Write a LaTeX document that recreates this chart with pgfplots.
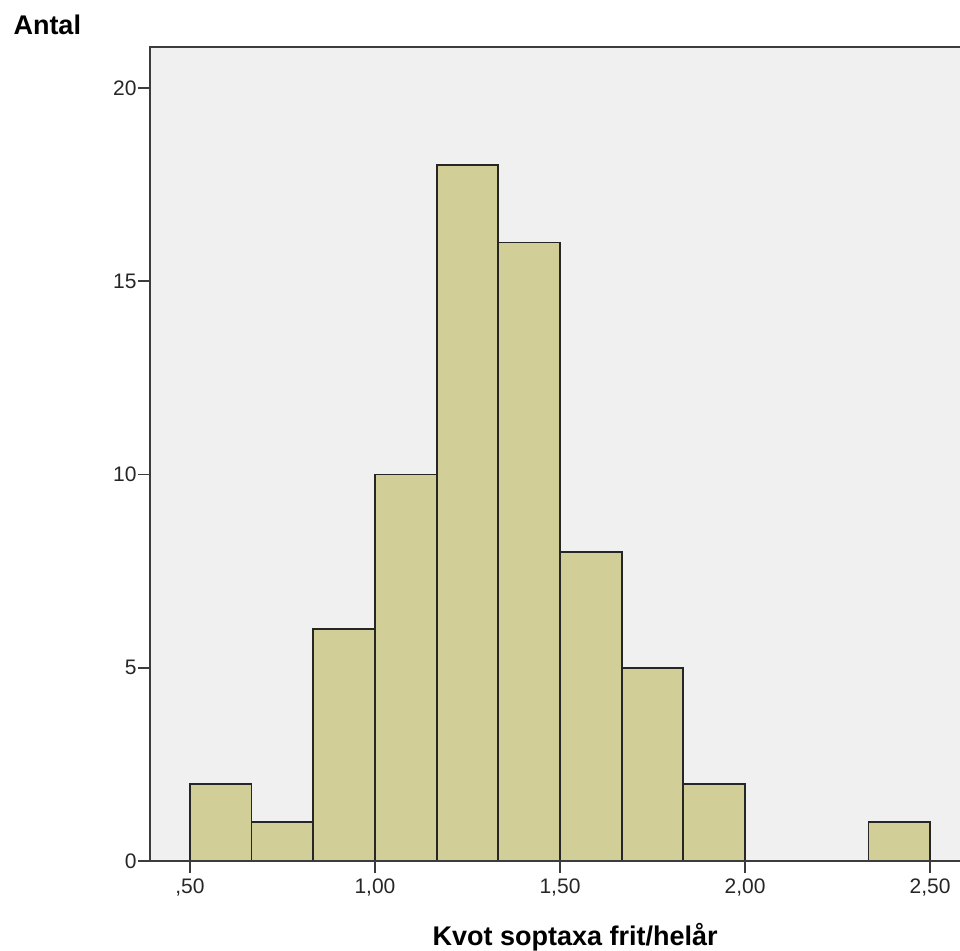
\documentclass[border=0pt]{standalone}
\usepackage{pgfplots}
\pgfplotsset{compat=1.18}
\usepackage{fontspec}
\setmainfont{Liberation Sans}
\definecolor{barfill}{RGB}{210,206,152}
\definecolor{bgc}{RGB}{240,240,240}
\definecolor{axc}{RGB}{60,60,60}
\begin{document}
\begin{tikzpicture}
\useasboundingbox (0,0) rectangle (960bp,951bp);
\begin{axis}[
  at={(150bp,90bp)}, anchor=south west,
  scale only axis, width=810bp, height=814bp,
  xmin=0.392, xmax=2.581, ymin=0, ymax=21.06,
  axis background/.style={fill=bgc},
  axis line style={draw=none},
  clip=false,
  xtick pos=bottom, ytick pos=left,
  tick align=outside, major tick length=12bp,
  tick style={draw=axc, line width=1.6bp},
  xtick={0.5,1,1.5,2,2.5},
  xticklabels={{,50},{1,00},{1,50},{2,00},{2,50}},
  ytick={0,5,10,15,20},
  yticklabels={0,5,10,15,20},
  ticklabel style={font=\fontsize{21bp}{24bp}\selectfont, text=black!85},
  xticklabel style={yshift=-2bp},
  yticklabel style={xshift=2bp},
  x tick label as interval=false,
]
\addplot[ybar interval, fill=barfill, draw=black!85, line width=1.7bp]
 coordinates {(0.5,2) (0.6667,1) (0.8333,6) (1.0,10) (1.1667,18) (1.3333,16)
 (1.5,8) (1.6667,5) (1.8333,2) (2.0,0) (2.1667,0) (2.3333,1) (2.5,1)};
\draw[axc, line width=2bp] (rel axis cs:1.05,1) -- (rel axis cs:0,1) -- (rel axis cs:0,0) -- (rel axis cs:1.05,0);
\node[anchor=west, font=\fontsize{27bp}{30bp}\selectfont\bfseries] at ([xshift=-140bp,yshift=22bp]rel axis cs:0,1) {Antal};
\node[font=\fontsize{27bp}{30bp}\selectfont\bfseries] at ([yshift=-76bp]axis cs:1.541,0) {Kvot soptaxa frit/helår};
\end{axis}
\end{tikzpicture}
\end{document}
